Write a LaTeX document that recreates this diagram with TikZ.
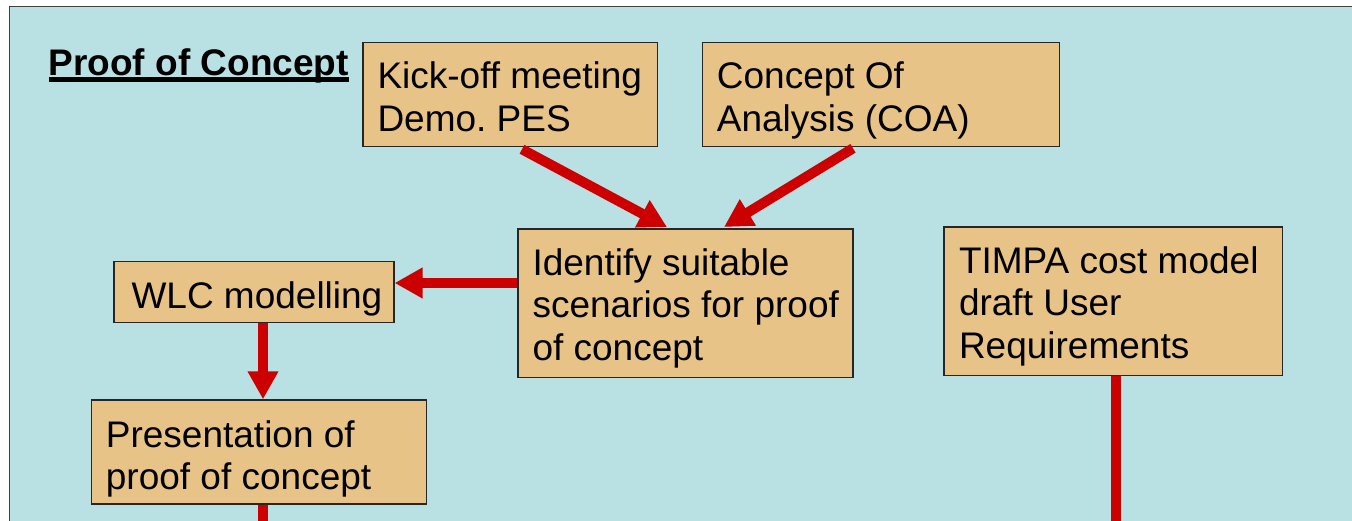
\documentclass[tikz,border=0pt]{standalone}
\usepackage{fontspec}
\setmainfont{Liberation Sans}
\usetikzlibrary{arrows.meta,calc}
\definecolor{panel}{HTML}{B9E0E3}
\definecolor{boxfill}{HTML}{E8C387}
\definecolor{flow}{HTML}{CC0000}
\frenchspacing
\tikzset{
  stepbox/.style={draw=black!85, line width=1.3pt, fill=boxfill, inner sep=0pt, anchor=north west},
  boxtext/.style={anchor=base west, inner sep=0pt, font=\fontsize{37}{42.5}\selectfont},
  flowarrow/.style={draw=flow, line width=10pt, -{Triangle[width=29pt,length=28pt]}},
  flowline/.style={draw=flow, line width=10pt},
}
\begin{document}
\begin{tikzpicture}[x=1pt,y=-1pt]
\useasboundingbox (0,0) rectangle (1352,521);
\fill[white] (0,0) rectangle (1352,521);
\draw[draw=black!75, line width=1.3pt, fill=panel] (9.7,6.7) rectangle (1380,540);

% title
\node[anchor=base west, inner sep=0pt, font=\fontsize{37}{42}\selectfont\bfseries] (title) at (48.5,76)
  {\setbox0\hbox{Proof of Concept}\rlap{\rule[-5.7pt]{\wd0}{4.3pt}}\box0};

% boxes
\node[stepbox, minimum width=294.4pt, minimum height=104.3pt] (kick) at (362.3,41.7) {};
\node[stepbox, minimum width=357.3pt, minimum height=104.3pt] (concept) at (701.7,41.7) {};
\node[stepbox, minimum width=335pt, minimum height=148.4pt] (ident) at (517.3,228.3) {};
\node[stepbox, minimum width=280pt, minimum height=61pt] (wlc) at (113.3,260.7) {};
\node[stepbox, minimum width=335pt, minimum height=104pt] (pres) at (90.7,399.3) {};
\node[stepbox, minimum width=338.4pt, minimum height=148pt] (timpa) at (943.3,226.5) {};

% texts
\node[boxtext] (kickT) at ($(kick.north west)+(15,47)$) {\parbox[t]{275pt}{\raggedright Kick-off meeting\\Demo. PES}};
\node[boxtext] (conceptT) at ($(concept.north west)+(15,47)$) {\parbox[t]{335pt}{\raggedright Concept Of\\Analysis (COA)}};
\node[boxtext] (identT) at ($(ident.north west)+(15,47)$) {\parbox[t]{318pt}{\raggedright Identify suitable\\scenarios for proof\\of concept}};
\node[boxtext] (wlcT) at ($(wlc.north west)+(18,47.6)$) {WLC modelling};
\node[boxtext] (presT) at ($(pres.north west)+(15,48)$) {\parbox[t]{318pt}{\raggedright Presentation of\\proof of concept}};
\node[boxtext] (timpaT) at ($(timpa.north west)+(15.5,47)$) {\parbox[t]{322pt}{\raggedright TIMPA cost model\\draft User\\Requirements}};

% connectors
\draw[flowarrow] ($(kick.south west)+(159.7,2)$) -- ($(ident.north west)+(149.7,-1.3)$);
\draw[flowarrow] ($(concept.south west)+(151.3,1)$) -- ($(ident.north west)+(206.7,-1.3)$);
\coordinate (iw) at ($(ident.north west)+(0,54.7)$);
\draw[flowarrow] (iw) -- (wlc.east |- iw);
\coordinate (ws) at ($(wlc.south west)+(149.7,0)$);
\draw[flowarrow] (ws) -- (ws |- pres.north);
\coordinate (ps) at ($(pres.south west)+(172.3,0)$);
\coordinate (psEnd) at ($(ps)+(0,40)$);
\draw[flowline] (ps) -- (psEnd);
\coordinate (ts) at ($(timpa.south west)+(172.2,0)$);
\coordinate (tsEnd) at ($(ts)+(0,180)$);
\draw[flowline] (ts) -- (tsEnd);
\end{tikzpicture}
\end{document}
